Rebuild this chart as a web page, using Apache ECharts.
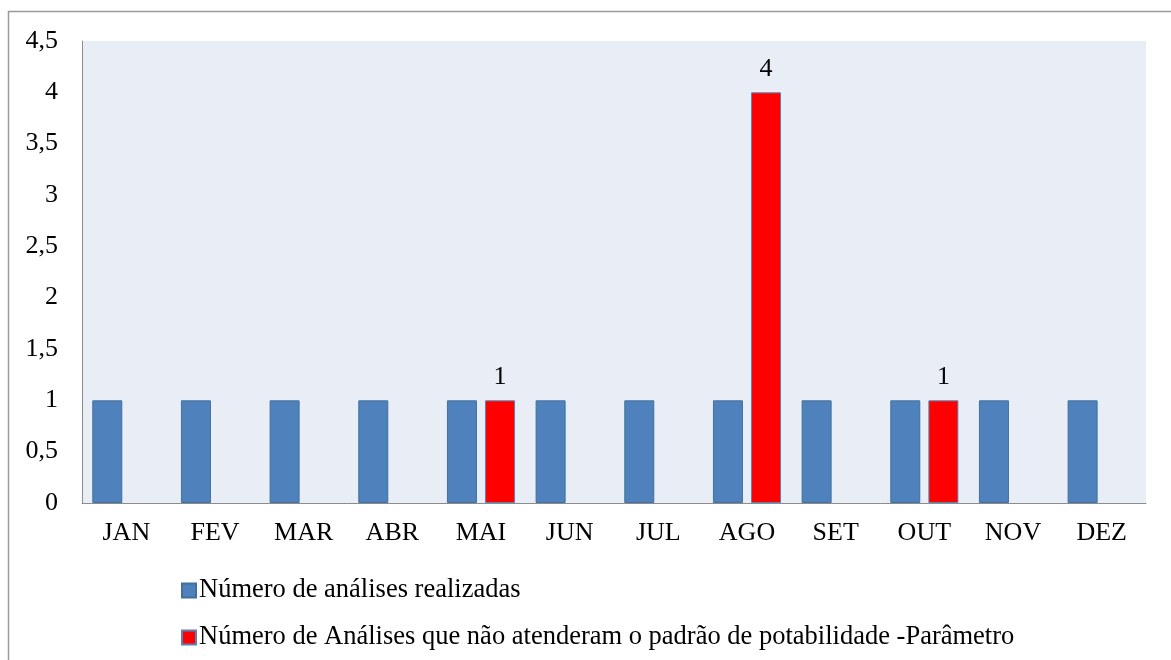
<!DOCTYPE html>
<html>
<head>
<meta charset="utf-8">
<script src="https://cdn.jsdelivr.net/npm/echarts@6/dist/echarts.min.js"></script>
<style>html,body{margin:0;padding:0;background:#fff}#c{width:1171px;height:660px}</style>
</head>
<body>
<div id="c"></div>
<script>
const months = ['JAN','FEV','MAR','ABR','MAI','JUN','JUL','AGO','SET','OUT','NOV','DEZ'];
const realizadas = [1,1,1,1,1,1,1,1,1,1,1,1];
const naoAtenderam = [null,null,null,null,1,null,null,4,null,1,null,null];
const seriesNames = ['Número de análises realizadas','Número de Análises que não atenderam o padrão de potabilidade -Parâmetro'];

const font = '"Liberation Serif","Times New Roman",serif';
const chart = echarts.init(document.getElementById('c'));
chart.setOption({
  animation:false,
  textStyle:{fontFamily:font},
  graphic:[{type:'rect',shape:{x:8.5,y:11.5,width:1300,height:800},style:{fill:null,stroke:'#9a9a9a',lineWidth:1.5},silent:true}],
  grid:{left:82,right:25,top:41,bottom:157,show:true,backgroundColor:'#e9edf5',borderWidth:0},
  legend:{orient:'vertical',left:176,top:572,itemWidth:14,itemHeight:14,itemGap:20,
    textStyle:{fontFamily:font,fontSize:26.5,color:'#000',padding:[0,0,0,-2]},
    data:seriesNames.map(n=>({name:n,icon:'rect'}))},
  xAxis:{type:'category',data:months,
    axisLine:{lineStyle:{color:'#8c8c8c',width:1}},axisTick:{show:false},
    axisLabel:{color:'#000',fontSize:26,fontFamily:font,margin:17}},
  yAxis:{type:'value',min:0,max:4.5,interval:0.5,
    axisLine:{show:true,lineStyle:{color:'#8c8c8c',width:1}},axisTick:{show:false},splitLine:{show:false},
    axisLabel:{color:'#000',fontSize:26,fontFamily:font,margin:24,formatter:v=>String(v).replace('.',',')}},
  series:[
    {name:seriesNames[0],type:'bar',data:realizadas,barWidth:30,barGap:'27%',
      itemStyle:{color:'#4f81bd',borderColor:'#41719c',borderWidth:1}},
    {name:seriesNames[1],type:'bar',data:naoAtenderam,barWidth:30,barGap:'27%',
      itemStyle:{color:'#ff0000',borderColor:'#5a82b4',borderWidth:1},
      label:{show:true,position:'top',distance:10,color:'#000',fontSize:26,fontFamily:font}}
  ]
});
</script>
</body>
</html>
